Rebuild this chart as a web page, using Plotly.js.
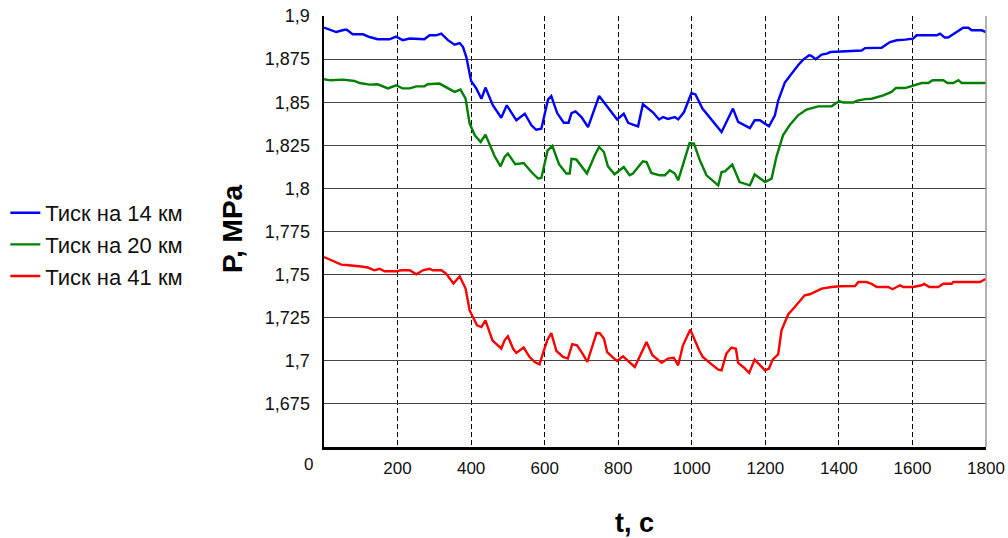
<!DOCTYPE html>
<html><head><meta charset="utf-8">
<script src="https://cdn.plot.ly/plotly-3.0.1.min.js"></script>
<style>html,body{margin:0;padding:0;background:#fff}#chart{width:1008px;height:538px}</style>
</head><body><div id="chart"></div>
<script>
const seriesNames = ["Тиск на 14 км", "Тиск на 20 км", "Тиск на 41 км"];
const tBlue = [0,33,56,62,78,106,124,146,178,196,
214,233,273,287,305,319,337,355,369,378,
387,400,414,428,439,459,482,497,523,546,
564,577,591,609,618,634,652,665,673,684,
700,718,748,772,797,815,827,840,854,867,
895,911,922,935,954,963,979,999,1010,1029,
1058,1081,1112,1126,1158,1171,1185,1210,1226,1235,
1253,1271,1289,1303,1319,1324,1337,1353,1367,1377,
1403,1434,1462,1471,1516,1539,1557,1580,1602,1611,
1666,1675,1688,1697,1738,1752,1761,1788,1800];
const pBlue = [1.8933,1.8907,1.892,1.892,1.8894,1.8894,1.8878,1.8865,1.8865,1.888,
1.886,1.8869,1.8865,1.8888,1.8888,1.8898,1.886,1.8834,1.8843,1.882,
1.8762,1.8623,1.858,1.852,1.8585,1.8482,1.841,1.8482,1.8395,1.8433,
1.8366,1.834,1.8346,1.8515,1.8536,1.8437,1.8381,1.8381,1.8437,1.8447,
1.8414,1.8356,1.8536,1.8466,1.84,1.8433,1.838,1.837,1.836,1.8488,
1.844,1.84,1.8414,1.8403,1.8414,1.84,1.8443,1.8553,1.8545,1.8463,
1.8389,1.8327,1.8463,1.8386,1.835,1.8395,1.8395,1.836,1.8424,1.851,
1.8614,1.8665,1.8714,1.8747,1.8772,1.877,1.8749,1.8776,1.8782,1.8791,
1.8795,1.88,1.88,1.8814,1.8816,1.8849,1.8859,1.8863,1.8869,1.8888,
1.8888,1.8898,1.8875,1.8875,1.8932,1.8932,1.8917,1.8917,1.8907];

const tGreen = [0,17,52,83,97,124,146,174,196,213,
233,251,273,282,314,332,355,371,385,396,
410,426,439,464,480,491,500,520,543,564,
582,591,608,621,639,659,668,673,686,715,
736,748,761,772,790,815,831,840,867,877,
890,913,927,940,954,963,976,994,1006,1022,
1040,1072,1081,1090,1110,1122,1130,1158,1171,1199,
1217,1230,1248,1266,1289,1312,1344,1380,1401,1412,
1439,1448,1471,1489,1503,1521,1543,1555,1580,1602,
1625,1643,1655,1684,1695,1711,1725,1734,1800];
const pGreen = [1.8633,1.8627,1.8631,1.8623,1.8611,1.8602,1.8604,1.858,1.8598,1.858,
1.858,1.8592,1.8592,1.8604,1.8608,1.8588,1.856,1.8573,1.852,1.8376,
1.8308,1.8269,1.8312,1.8186,1.8128,1.8182,1.8202,1.814,1.8147,1.8095,
1.8057,1.806,1.822,1.8246,1.814,1.8086,1.8086,1.8172,1.8168,1.8086,
1.8191,1.824,1.8211,1.8128,1.8082,1.8124,1.8076,1.8086,1.8157,1.8153,
1.809,1.8076,1.8076,1.8105,1.8086,1.8047,1.8143,1.8263,1.826,1.8163,
1.8076,1.8018,1.8095,1.8099,1.8138,1.8076,1.8037,1.8018,1.8081,1.8037,
1.8057,1.8182,1.8308,1.8366,1.8424,1.8457,1.8476,1.8476,1.8507,1.8498,
1.8498,1.8508,1.8518,1.852,1.8527,1.854,1.856,1.8582,1.8582,1.8598,
1.8611,1.8611,1.8627,1.8627,1.8611,1.8611,1.8627,1.8611,1.8611];

const tRed = [0,24,47,60,92,101,119,137,151,165,
196,210,233,251,269,287,296,319,332,352,
369,385,396,405,416,428,439,458,482,491,
500,514,523,543,559,573,586,595,607,618,
632,650,663,675,688,703,716,741,750,761,
770,786,797,813,831,845,877,893,918,935,
951,963,976,996,1020,1030,1049,1072,1081,1094,
1108,1120,1126,1140,1156,1171,1199,1210,1220,1235,
1244,1262,1280,1307,1321,1353,1380,1403,1444,1453,
1475,1489,1503,1534,1546,1566,1575,1602,1625,1632,
1646,1670,1684,1707,1711,1784,1800];
const pRed = [1.7602,1.7579,1.7558,1.7556,1.7552,1.7547,1.7541,1.7525,1.7534,1.7519,
1.7519,1.7525,1.7525,1.7502,1.7525,1.7534,1.7525,1.7525,1.7506,1.7448,
1.749,1.7419,1.7292,1.7254,1.7206,1.7196,1.7235,1.7119,1.7071,1.7119,
1.7142,1.7071,1.7046,1.7077,1.7022,1.6993,1.698,1.7042,1.7119,1.7161,
1.7057,1.7022,1.7013,1.7096,1.709,1.7042,1.6993,1.7161,1.716,1.7129,
1.7051,1.7018,1.6999,1.7026,1.6988,1.6964,1.7109,1.7032,1.6988,1.7013,
1.7018,1.6974,1.709,1.7181,1.7061,1.7022,1.6988,1.6949,1.6945,1.7042,
1.7077,1.707,1.6988,1.6964,1.693,1.7007,1.6945,1.6955,1.7007,1.7038,
1.7177,1.7269,1.7312,1.738,1.7386,1.7419,1.7428,1.7432,1.7434,1.7457,
1.7457,1.7446,1.7428,1.7428,1.7415,1.7438,1.7428,1.7428,1.7438,1.7446,
1.7428,1.7428,1.7447,1.7447,1.7457,1.7457,1.7476];

const xTickVals = [200,400,600,800,1000,1200,1400,1600,1800];
const xTickText = ["200","400","600","800","1000","1200","1400","1600","1800"];
const yTickVals = [1.675,1.7,1.725,1.75,1.775,1.8,1.825,1.85,1.875,1.9];
const yTickText = ["1,675","1,7","1,725","1,75","1,775","1,8","1,825","1,85","1,875","1,9"];

const FONT = "Liberation Sans, Arial, sans-serif";
const colors = ["#0000ff", "#008000", "#ff0000"];
const xs = [tBlue, tGreen, tRed], ys = [pBlue, pGreen, pRed];

const traces = seriesNames.map((n, i) => ({
  x: xs[i], y: ys[i], name: n, type: "scatter", mode: "lines",
  line: {color: colors[i], width: 2.4}
}));

const layout = {
  width: 1008, height: 538,
  margin: {l: 324, r: 22, t: 16, b: 91, autoexpand: false},
  paper_bgcolor: "#fff", plot_bgcolor: "#fff",
  font: {family: FONT, color: "#111"},
  showlegend: true,
  legend: {x: -0.4814, xanchor: "left", y: 0.47, yanchor: "middle",
           font: {family: FONT, size: 22, color: "#111"}, bgcolor: "rgba(0,0,0,0)",
           tracegroupgap: 0},
  xaxis: {
    range: [0, 1800], tickvals: xTickVals, ticktext: xTickText,
    showgrid: true, gridcolor: "#000", gridwidth: 1, griddash: "5px,3px",
    showline: true, linecolor: "#000", linewidth: 2.5,
    zeroline: false, ticks: "", ticklabelstandoff: 4,
    tickfont: {family: FONT, size: 17, color: "#111"}
  },
  yaxis: {
    range: [1.65, 1.9], tickvals: yTickVals, ticktext: yTickText,
    showgrid: true, gridcolor: "#444", gridwidth: 1,
    showline: true, linecolor: "#000", linewidth: 2.5,
    zeroline: false, ticks: "", ticklabelstandoff: 8,
    tickfont: {family: FONT, size: 18, color: "#111"}
  },
  shapes: [{type: "line", xref: "paper", yref: "paper", x0: 1, x1: 1, y0: 0, y1: 1,
            line: {color: "#999", width: 1.5}}],
  annotations: [
    {text: "0", xref: "paper", yref: "paper", x: -0.024, y: -0.04, xanchor: "center", yanchor: "middle",
     showarrow: false, font: {family: FONT, size: 17, color: "#111"}},
    {text: "<b>t, c</b>", xref: "paper", yref: "paper", x: 0.469, y: -0.176, xanchor: "center", yanchor: "middle",
     showarrow: false, font: {family: FONT, size: 27, color: "#000"}},
    {text: "<b>P, MPa</b>", xref: "paper", yref: "paper", x: -0.139, y: 0.508, xanchor: "center", yanchor: "middle",
     textangle: -90, showarrow: false, font: {family: FONT, size: 28, color: "#000"}}
  ]
};

Plotly.newPlot("chart", traces, layout, {displayModeBar: false, staticPlot: true});
</script>
</body></html>
